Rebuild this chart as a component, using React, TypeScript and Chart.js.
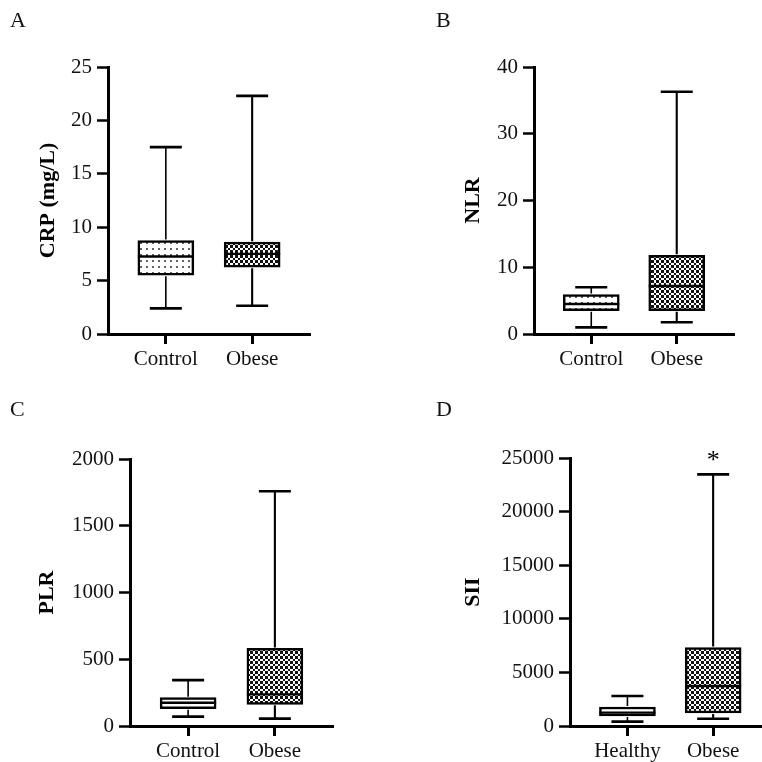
import React, { useEffect, useRef } from 'react';
import { Chart, registerables } from 'chart.js';
Chart.register(...registerables);

// ---------- data ----------
const panelLetters = ['A', 'B', 'C', 'D'];
const groupsControl = ['Control', 'Obese'];
const groupsHealthy = ['Healthy', 'Obese'];
const yTitles = ['CRP (mg/L)', 'NLR', 'PLR', 'SII'];
const yMaxes = [25, 40, 2000, 25000];
const ySteps = [5, 10, 500, 5000];

const crpMin = [2.4, 2.65];
const crpQ1 = [5.5, 6.25];
const crpMed = [7.25, 7.5];
const crpQ3 = [8.75, 8.6];
const crpMax = [17.5, 22.3];

const nlrMin = [1.0, 1.75];
const nlrQ1 = [3.5, 3.5];
const nlrMed = [4.5, 7.2];
const nlrQ3 = [5.9, 11.8];
const nlrMax = [7.0, 36.3];

const plrMin = [70, 55];
const plrQ1 = [130, 162];
const plrMed = [174, 237];
const plrQ3 = [212, 581];
const plrMax = [344, 1758];

const siiMin = [405, 680];
const siiQ1 = [935, 1215];
const siiMed = [1245, 3735];
const siiQ3 = [1775, 7315];
const siiMax = [2800, 23470];

const siiSignificance = ['', '*'];

// ---------- styling / layout ----------
const FONT = "'Liberation Serif', 'Times New Roman', serif";

type Stats = { min: number[]; q1: number[]; med: number[]; q3: number[]; max: number[] };

function makeDots(): CanvasPattern | string {
  const c = document.createElement('canvas');
  c.width = 6; c.height = 6;
  const g = c.getContext('2d');
  if (!g) return '#fff';
  g.fillStyle = '#fff'; g.fillRect(0, 0, 6, 6);
  g.fillStyle = '#222';
  g.beginPath(); g.arc(3, 3, 0.95, 0, Math.PI * 2); g.fill();
  return g.createPattern(c, 'repeat') || '#fff';
}

function makeChecker(): CanvasPattern | string {
  const c = document.createElement('canvas');
  c.width = 10; c.height = 10;
  const g = c.getContext('2d');
  if (!g) return '#555';
  g.fillStyle = '#fff'; g.fillRect(0, 0, 10, 10);
  g.fillStyle = '#111';
  const pos = [0, 3, 5, 8];
  const size = [3, 2, 3, 2];
  for (let i = 0; i < 4; i++) {
    for (let j = 0; j < 4; j++) {
      if ((i + j) % 2 === 0) g.fillRect(pos[i], pos[j], size[i], size[j]);
    }
  }
  return g.createPattern(c, 'repeat') || '#555';
}

type PanelCfg = {
  letter: string;
  labels: string[];
  stats: Stats;
  title: string;
  yMax: number;
  step: number;
  controlFill: 'dots' | 'white';
  marks?: string[];
  left: number; top: number;
  yW: number; xH: number; padTop: number; padRight: number; titlePad: number; xMax: number;
};

const panels: PanelCfg[] = [
  { letter: panelLetters[0], labels: groupsControl, stats: { min: crpMin, q1: crpQ1, med: crpMed, q3: crpQ3, max: crpMax },
    title: yTitles[0], yMax: yMaxes[0], step: ySteps[0], controlFill: 'dots',
    left: 0, top: 0, yW: 108, xH: 47, padTop: 67, padRight: 71, titlePad: 35, xMax: 2.67 },
  { letter: panelLetters[1], labels: groupsControl, stats: { min: nlrMin, q1: nlrQ1, med: nlrMed, q3: nlrQ3, max: nlrMax },
    title: yTitles[1], yMax: yMaxes[1], step: ySteps[1], controlFill: 'dots',
    left: 381, top: 0, yW: 153, xH: 47, padTop: 67, padRight: 28, titlePad: 79, xMax: 2.67 },
  { letter: panelLetters[2], labels: groupsControl, stats: { min: plrMin, q1: plrQ1, med: plrMed, q3: plrQ3, max: plrMax },
    title: yTitles[2], yMax: yMaxes[2], step: ySteps[2], controlFill: 'white',
    left: 0, top: 381, yW: 130, xH: 36, padTop: 78, padRight: 48, titlePad: 34, xMax: 2.67 },
  { letter: panelLetters[3], labels: groupsHealthy, stats: { min: siiMin, q1: siiQ1, med: siiMed, q3: siiQ3, max: siiMax },
    title: yTitles[3], yMax: yMaxes[3], step: ySteps[3], controlFill: 'white', marks: siiSignificance,
    left: 381, top: 381, yW: 189, xH: 36, padTop: 77, padRight: 0, titlePad: 79, xMax: 2.57 },
];

const letterPos = [[10, 27], [55, 27], [10, 35], [55, 35]];

function Panel({ cfg, idx }: { cfg: PanelCfg; idx: number }) {
  const ref = useRef<HTMLCanvasElement | null>(null);
  useEffect(() => {
    const canvas = ref.current;
    if (!canvas) return;
    const fills = [cfg.controlFill === 'dots' ? makeDots() : '#ffffff', makeChecker()];
    const st = cfg.stats;
    const whiskerWidths = [1.6, 2.1];
    const boxPlugin = {
      id: 'boxWhiskers',
      afterDatasetsDraw(chart: any) {
        const ctx = chart.ctx;
        const xs = chart.scales.x;
        const ys = chart.scales.y;
        ctx.save();
        ctx.strokeStyle = '#000';
        cfg.labels.forEach((_, k) => {
          const x = xs.getPixelForValue(k + 1);
          const pMax = ys.getPixelForValue(st.max[k]);
          const pQ3 = ys.getPixelForValue(st.q3[k]);
          const pQ1 = ys.getPixelForValue(st.q1[k]);
          const pMin = ys.getPixelForValue(st.min[k]);
          const pMed = ys.getPixelForValue(st.med[k]);
          ctx.lineWidth = whiskerWidths[k];
          ctx.beginPath();
          ctx.moveTo(x, pMax); ctx.lineTo(x, pQ3 - 1);
          ctx.moveTo(x, pQ1 + 1); ctx.lineTo(x, pMin);
          ctx.stroke();
          ctx.lineWidth = 2.6;
          ctx.beginPath();
          ctx.moveTo(x - 16, pMax); ctx.lineTo(x + 16, pMax);
          ctx.moveTo(x - 16, pMin); ctx.lineTo(x + 16, pMin);
          ctx.stroke();
          ctx.lineWidth = 2.4;
          ctx.beginPath();
          ctx.moveTo(x - 28, pMed); ctx.lineTo(x + 28, pMed);
          ctx.stroke();
          if (cfg.marks && cfg.marks[k]) {
            ctx.fillStyle = '#000';
            ctx.font = `26px ${FONT}`;
            ctx.textAlign = 'center';
            ctx.textBaseline = 'alphabetic';
            ctx.fillText(cfg.marks[k], x, pMax - 6);
          }
        });
        ctx.restore();
      },
      afterDraw(chart: any) {
        const ctx = chart.ctx;
        ctx.save();
        ctx.fillStyle = '#111';
        ctx.font = `22px ${FONT}`;
        ctx.textAlign = 'left';
        ctx.textBaseline = 'alphabetic';
        ctx.fillText(cfg.letter, letterPos[idx][0], letterPos[idx][1]);
        ctx.restore();
      },
    };
    const tickFont = { family: FONT, size: 21 };
    const chart = new Chart(canvas, {
      type: 'bar',
      data: {
        datasets: [{
          data: cfg.labels.map((_, k) => ({ x: k + 1, y: [st.q1[k], st.q3[k]] })) as any,
          backgroundColor: fills as any,
          borderColor: '#000',
          borderWidth: 2.5,
          borderSkipped: false,
          barThickness: 56,
        }],
      },
      options: {
        animation: false,
        responsive: false,
        maintainAspectRatio: false,
        layout: { padding: { top: cfg.padTop, right: cfg.padRight, left: 0, bottom: 0 } },
        plugins: { legend: { display: false }, tooltip: { enabled: false } },
        scales: {
          x: {
            type: 'linear',
            min: 0.33,
            max: cfg.xMax,
            offset: false,
            afterBuildTicks: (s: any) => { s.ticks = cfg.labels.map((_, k) => ({ value: k + 1 })); },
            afterFit: (s: any) => { s.height = cfg.xH; },
            ticks: {
              callback: (v: any) => cfg.labels[Math.round(Number(v)) - 1] ?? '',
              font: tickFont, color: '#111', padding: 3, maxRotation: 0, autoSkip: false,
            },
            grid: { drawOnChartArea: false, drawTicks: true, tickLength: 10, tickWidth: 3, tickColor: '#000', offset: false },
            border: { display: true, color: '#000', width: 3 },
          },
          y: {
            min: 0,
            max: cfg.yMax,
            afterFit: (s: any) => { s.width = cfg.yW; },
            ticks: { stepSize: cfg.step, callback: (v: any) => String(v), font: tickFont, color: '#111', padding: 5 },
            title: {
              display: true, text: cfg.title, color: '#000',
              font: { family: FONT, size: 22, weight: 'bold' },
              padding: { top: cfg.titlePad, bottom: 0 },
            },
            grid: { drawOnChartArea: false, drawTicks: true, tickLength: 11, tickWidth: 2.5, tickColor: '#000' },
            border: { display: true, color: '#000', width: 3 },
          },
        },
      } as any,
      plugins: [boxPlugin],
    });
    return () => chart.destroy();
  }, [cfg, idx]);
  return (
    <canvas
      ref={ref}
      width={381}
      height={381}
      style={{ position: 'absolute', left: cfg.left, top: cfg.top, width: 381, height: 381 }}
    />
  );
}

export default function App() {
  return (
    <div style={{ position: 'fixed', left: 0, top: 0, width: 762, height: 762, background: '#fff', overflow: 'hidden' }}>
      {panels.map((p, i) => <Panel key={p.letter} cfg={p} idx={i} />)}
    </div>
  );
}
